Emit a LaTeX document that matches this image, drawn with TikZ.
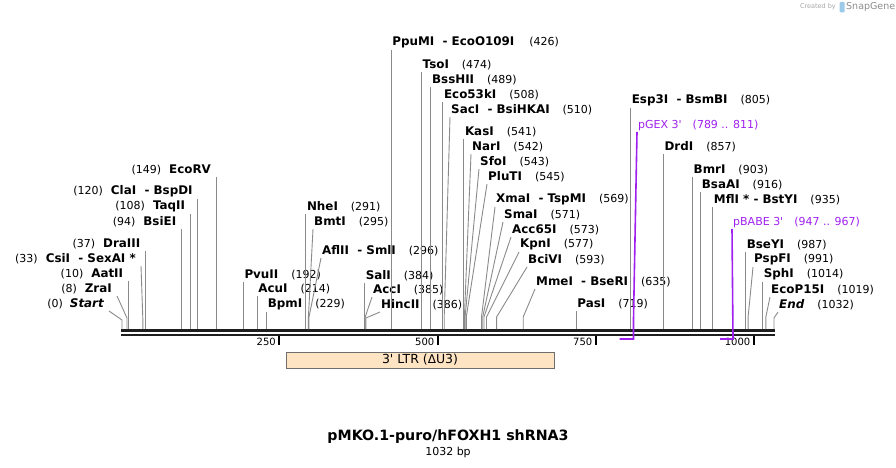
\documentclass[tikz,border=0pt]{standalone}
\usepackage{fontspec}
\setmainfont{DejaVu Sans}[Ligatures=TeXOff]
\usepackage{tikz}
\usetikzlibrary{positioning}

\definecolor{cutgray}{HTML}{8A8A8A}
\definecolor{primerpurple}{HTML}{A020F0}
\definecolor{ltrfill}{HTML}{FFE4C4}
\definecolor{ltrdraw}{HTML}{6E6E6E}
\definecolor{seqblack}{HTML}{1E1E1E}
\definecolor{logoblue}{HTML}{9CCBEA}

\newcommand{\enzname}[1]{{\fontsize{11.9}{13}\selectfont\bfseries #1}}
\newcommand{\enzpos}[1]{{\fontsize{11}{13}\selectfont(#1)}}

\tikzset{
  rlabel/.style={anchor=south west, inner xsep=1pt, inner ysep=1.5pt},
  llabel/.style={anchor=south east, inner xsep=5pt, inner ysep=1.5pt},
  cutline/.style={draw=cutgray, line width=0.9pt},
  seqline/.style={draw=seqblack, line width=2.6pt},
  primer/.style={draw=primerpurple, line width=1.6pt},
  plabel/.style={anchor=south west, inner xsep=1pt, inner ysep=1.5pt, text=primerpurple, font=\fontsize{11}{13}\selectfont},
  ltrbox/.style={draw=ltrdraw, fill=ltrfill, line width=1pt, minimum width=268pt, minimum height=16pt, inner sep=0pt, font=\fontsize{12.5}{14}\selectfont},
  ticklabel/.style={anchor=east, inner sep=1pt, font=\fontsize{10}{12}\selectfont},
}

\begin{document}
\begin{tikzpicture}[x=1pt, y=-1pt]
\useasboundingbox (0,0) rectangle (896,468);

% sequence line and scale
\draw[seqline] (121,330.5) -- (775,330.5);
\draw[seqline] (121,334.8) -- (775,334.8);
\foreach \t/\x in {250/279, 500/437.5, 750/595.5, 1000/753.5} {
  \draw[black, line width=2pt] (\x,336) -- (\x,345);
  \node[ticklabel] at (\x-2,342) {\t};
}

% left labels
\node[llabel] (ecorv) at (216.1,177) {\enzpos{149}\hspace{8pt}\enzname{EcoRV}};
\node[llabel] (clai) at (197.8,199) {\enzpos{120}\hspace{8pt}\enzname{ClaI~~- BspDI}};
\node[llabel] (taqii) at (190.2,214) {\enzpos{108}\hspace{8pt}\enzname{TaqII}};
\node[llabel] (bsiei) at (181.4,229) {\enzpos{94}\hspace{8pt}\enzname{BsiEI}};
\node[llabel] (draiii) at (145.4,251) {\enzpos{37}\hspace{8pt}\enzname{DraIII}};
\node[llabel] (csii) at (141,266) {\enzpos{33}\hspace{8pt}\enzname{CsiI~~- SexAI *}};
\node[llabel] (aatii) at (128.3,281) {\enzpos{10}\hspace{8pt}\enzname{AatII}};
\node[llabel] (zrai) at (117,296) {\enzpos{8}\hspace{8pt}\enzname{ZraI}};
\node[llabel] (start) at (109,311) {\enzpos{0}\hspace{7pt}\enzname{\itshape Start}};

\draw[cutline] (216.1,329) coordinate (s-ecorv) -- (ecorv.south east);
\draw[cutline] (197.8,329) coordinate (s-clai) -- (clai.south east);
\draw[cutline] (190.2,329) coordinate (s-taqii) -- (taqii.south east);
\draw[cutline] (181.4,329) coordinate (s-bsiei) -- (bsiei.south east);
\draw[cutline] (145.4,329) coordinate (s-draiii) -- (draiii.south east);
\draw[cutline] (142.8,329) coordinate (s-csii) -- ++(0,-11) -- (csii.south east);
\draw[cutline] (128.3,329) coordinate (s-aatii) -- (aatii.south east);
\draw[cutline] (127.0,329) coordinate (s-zrai) -- ++(0,-11) -- (zrai.south east);
\draw[cutline] (122,329) coordinate (s-start) -- ++(0,-9) -- (start.south east);

% right labels
\node[rlabel] (pvuii) at (243.3,282) {\enzname{PvuII}\hspace{13pt}\enzpos{192}};
\node[rlabel] (acui) at (257.2,296) {\enzname{AcuI}\hspace{13pt}\enzpos{214}};
\node[rlabel] (bpmi) at (266.7,312) {\enzname{BpmI}\hspace{13pt}\enzpos{229}};
\node[rlabel] (nhei) at (305.8,214) {\enzname{NheI}\hspace{13pt}\enzpos{291}};
\node[rlabel] (bmti) at (313,229) {\enzname{BmtI}\hspace{13pt}\enzpos{295}};
\node[rlabel] (aflii) at (321,258) {\enzname{AflII~~- SmlI}\hspace{13pt}\enzpos{296}};
\node[rlabel] (sali) at (364.6,283) {\enzname{SalI}\hspace{13pt}\enzpos{384}};
\node[rlabel] (acci) at (372,297) {\enzname{AccI}\hspace{13pt}\enzpos{385}};
\node[rlabel] (hincii) at (380,312) {\enzname{HincII}\hspace{13pt}\enzpos{386}};
\node[rlabel] (ppumi) at (391.1,50) {\enzname{PpuMI~~- EcoO109I}\hspace{15pt}\enzpos{426}};
\node[rlabel] (tsoi) at (421.5,72) {\enzname{TsoI}\hspace{13pt}\enzpos{474}};
\node[rlabel] (bsshii) at (430.9,87) {\enzname{BssHII}\hspace{13pt}\enzpos{489}};
\node[rlabel] (eco53ki) at (442.9,102) {\enzname{Eco53kI}\hspace{13pt}\enzpos{508}};
\node[rlabel] (saci) at (450,117) {\enzname{SacI~~- BsiHKAI}\hspace{13pt}\enzpos{510}};
\node[rlabel] (kasi) at (463.8,139) {\enzname{KasI}\hspace{13pt}\enzpos{541}};
\node[rlabel] (nari) at (471,154) {\enzname{NarI}\hspace{13pt}\enzpos{542}};
\node[rlabel] (sfoi) at (479,169) {\enzname{SfoI}\hspace{13pt}\enzpos{543}};
\node[rlabel] (pluti) at (487,184) {\enzname{PluTI}\hspace{13pt}\enzpos{545}};
\node[rlabel] (xmai) at (495,207) {\enzname{XmaI~~- TspMI}\hspace{13pt}\enzpos{569}};
\node[rlabel] (smai) at (503,222) {\enzname{SmaI}\hspace{13pt}\enzpos{571}};
\node[rlabel] (acc65i) at (511,237) {\enzname{Acc65I}\hspace{13pt}\enzpos{573}};
\node[rlabel] (kpni) at (519,252) {\enzname{KpnI}\hspace{13pt}\enzpos{577}};
\node[rlabel] (bcivi) at (527,267) {\enzname{BciVI}\hspace{13pt}\enzpos{593}};
\node[rlabel] (mmei) at (535,289) {\enzname{MmeI~~- BseRI}\hspace{13pt}\enzpos{635}};
\node[rlabel] (pasi) at (576.2,311) {\enzname{PasI}\hspace{13pt}\enzpos{719}};
\node[rlabel] (esp3i) at (630.6,108) {\enzname{Esp3I~~- BsmBI}\hspace{13pt}\enzpos{805}};
\node[rlabel] (drdi) at (663.4,154) {\enzname{DrdI}\hspace{13pt}\enzpos{857}};
\node[rlabel] (bmri) at (692.5,177) {\enzname{BmrI}\hspace{13pt}\enzpos{903}};
\node[rlabel] (bsaai) at (700.7,192) {\enzname{BsaAI}\hspace{13pt}\enzpos{916}};
\node[rlabel] (mfli) at (712.7,207) {\enzname{MflI * - BstYI}\hspace{13pt}\enzpos{935}};
\node[rlabel] (bseyi) at (745.6,252) {\enzname{BseYI}\hspace{13pt}\enzpos{987}};
\node[rlabel] (pspfi) at (753,267) {\enzname{PspFI}\hspace{13pt}\enzpos{991}};
\node[rlabel] (sphi) at (762.6,282) {\enzname{SphI}\hspace{13pt}\enzpos{1014}};
\node[rlabel] (ecop15i) at (770,297) {\enzname{EcoP15I}\hspace{13pt}\enzpos{1019}};
\node[rlabel] (end) at (778,312) {\enzname{\itshape End}\hspace{13pt}\enzpos{1032}};

\draw[cutline] (243.3,329) coordinate (s-pvuii) -- (pvuii.south west);
\draw[cutline] (257.2,329) coordinate (s-acui) -- (acui.south west);
\draw[cutline] (266.7,329) coordinate (s-bpmi) -- (bpmi.south west);
\draw[cutline] (305.8,329) coordinate (s-nhei) -- (nhei.south west);
\draw[cutline] (308.4,329) coordinate (s-bmti) -- ++(0,-12) -- (bmti.south west);
\draw[cutline] (309.0,329) coordinate (s-aflii) -- ++(0,-12) -- (aflii.south west);
\draw[cutline] (364.6,329) coordinate (s-sali) -- (sali.south west);
\draw[cutline] (365.2,329) coordinate (s-acci) -- ++(0,-12) -- (acci.south west);
\draw[cutline] (365.9,329) coordinate (s-hincii) -- ++(0,-11) -- (hincii.south west);
\draw[cutline] (391.1,329) coordinate (s-ppumi) -- (ppumi.south west);
\draw[cutline] (421.5,329) coordinate (s-tsoi) -- (tsoi.south west);
\draw[cutline] (430.9,329) coordinate (s-bsshii) -- (bsshii.south west);
\draw[cutline] (442.9,329) coordinate (s-eco53ki) -- (eco53ki.south west);
\draw[cutline] (444.2,329) coordinate (s-saci) -- ++(0,-12) -- (saci.south west);
\draw[cutline] (463.8,329) coordinate (s-kasi) -- (kasi.south west);
\draw[cutline] (464.4,329) coordinate (s-nari) -- ++(0,-12) -- (nari.south west);
\draw[cutline] (465.1,329) coordinate (s-sfoi) -- ++(0,-12) -- (sfoi.south west);
\draw[cutline] (466.3,329) coordinate (s-pluti) -- ++(0,-12) -- (pluti.south west);
\draw[cutline] (481.5,329) coordinate (s-xmai) -- ++(0,-12) -- (xmai.south west);
\draw[cutline] (482.7,329) coordinate (s-smai) -- ++(0,-12) -- (smai.south west);
\draw[cutline] (484.0,329) coordinate (s-acc65i) -- ++(0,-12) -- (acc65i.south west);
\draw[cutline] (486.5,329) coordinate (s-kpni) -- ++(0,-12) -- (kpni.south west);
\draw[cutline] (496.6,329) coordinate (s-bcivi) -- ++(0,-12) -- (bcivi.south west);
\draw[cutline] (523.2,329) coordinate (s-mmei) -- ++(0,-12) -- (mmei.south west);
\draw[cutline] (576.2,329) coordinate (s-pasi) -- (pasi.south west);
\draw[cutline] (630.6,329) coordinate (s-esp3i) -- (esp3i.south west);
\draw[cutline] (663.4,329) coordinate (s-drdi) -- (drdi.south west);
\draw[cutline] (692.5,329) coordinate (s-bmri) -- (bmri.south west);
\draw[cutline] (700.7,329) coordinate (s-bsaai) -- (bsaai.south west);
\draw[cutline] (712.7,329) coordinate (s-mfli) -- (mfli.south west);
\draw[cutline] (745.6,329) coordinate (s-bseyi) -- (bseyi.south west);
\draw[cutline] (748.1,329) coordinate (s-pspfi) -- ++(0,-12) -- (pspfi.south west);
\draw[cutline] (762.6,329) coordinate (s-sphi) -- (sphi.south west);
\draw[cutline] (765.8,329) coordinate (s-ecop15i) -- ++(0,-12) -- (ecop15i.south west);
\draw[cutline] (774,329) coordinate (s-end) -- ++(0,-11) -- (end.south west);

% primers
\node[plabel] (pgex) at (637,132) {pGEX 3'\hspace{11pt}(789 .. 811)};
\node[plabel] (pbabe) at (732,229) {pBABE 3'\hspace{11pt}(947 .. 967)};
\draw[primer] (619.5,339) coordinate (pgex-a) -- (633.5,339) -- ++(0,-20) -- (pgex.south west);
\draw[primer] (720,339) coordinate (pbabe-a) -- (733,339) -- (pbabe.south west);

% feature
\node[ltrbox] (ltr) at (420,360) {3' LTR ({\fontsize{12}{14}\selectfont Δ}U3)};

% title
\node[font=\fontsize{14.2}{16}\selectfont\bfseries, inner sep=1pt] (title) at (448,437) {pMKO.1-puro/hFOXH1 shRNA3};
\node[font=\fontsize{11}{13}\selectfont, inner sep=1pt, below=1pt of title] (bp) {1032 bp};

% logo
\node[anchor=east, inner sep=0pt, text=black!35, font=\fontsize{6.5}{8}\selectfont] (created) at (836,7) {Created by};
\fill[logoblue, rounded corners=1pt] (839.5,2) rectangle (844.5,12.5);
\node[anchor=west, inner sep=0pt, text=black!45, font=\fontsize{9.5}{11}\selectfont] (snapgene) at (846,7) {SnapGene};
\end{tikzpicture}
\end{document}
